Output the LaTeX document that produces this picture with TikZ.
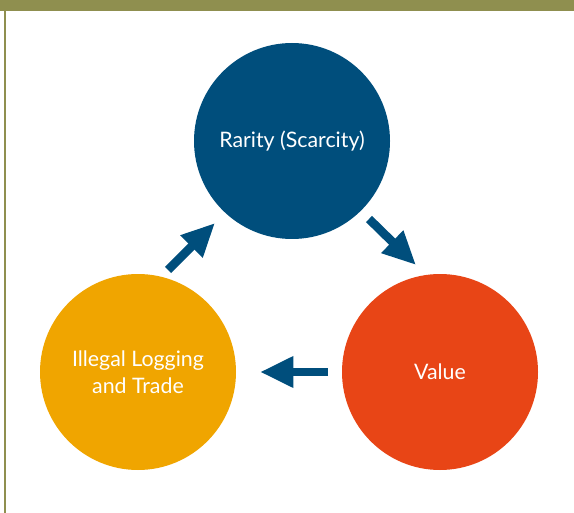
\documentclass[tikz,border=0pt]{standalone}
\usepackage{fontspec}
\setmainfont{Lato}
\usetikzlibrary{arrows.meta,positioning}
\definecolor{olive}{RGB}{143,143,79}
\definecolor{rarblue}{RGB}{0,78,124}
\definecolor{illorange}{RGB}{240,165,0}
\definecolor{valred}{RGB}{232,69,22}
\tikzset{
  cyc/.style={circle, minimum size=147pt, inner sep=0pt, text=white,
    align=center, font=\fontsize{16}{20}\selectfont},
  fat/.style={rarblue, line width=6.5pt,
    -{Triangle[length=25pt,width=22pt]}}
}

\begin{document}
\begin{tikzpicture}[x=0.75pt,y=-0.75pt]
      \useasboundingbox (0,0) rectangle (574,513);
      \fill[olive] (0,0) rectangle (574,11);
      \fill[olive] (4,11) rectangle (6,513);

      \node[cyc, fill=rarblue] (rar) at (292,141) {Rarity (Scarcity)};
      \node[cyc, fill=valred] (val) at (440,372) {Value};
      \node[cyc, fill=illorange] (ill) at (138,372) {Illegal Logging\\and Trade};

      \coordinate (a1) at (369,219);
      \coordinate (b1) at (416,265);
      \coordinate (a2) at (328,372);
      \coordinate (b2) at (260,372);
      \coordinate (a3) at (168,270);
      \coordinate (b3) at (215,223);

      \draw[fat] (a1) -- (b1);
      \draw[fat] (a2) -- (b2);
      \draw[fat] (a3) -- (b3);
    \end{tikzpicture}
\end{document}
